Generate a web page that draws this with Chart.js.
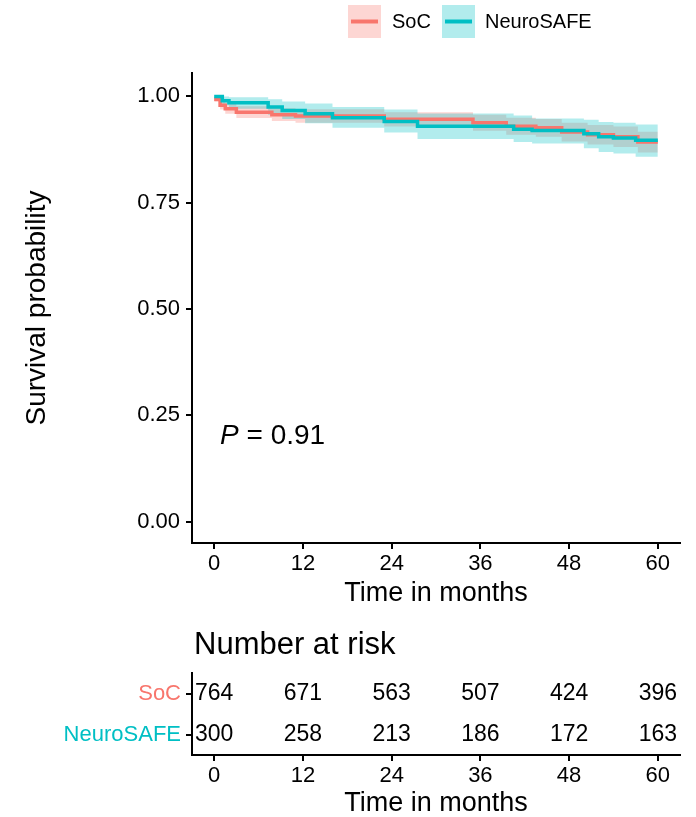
<!DOCTYPE html>
<html lang="en">
<head>
    <script src="https://cdn.jsdelivr.net/npm/chart.js"></script>
    <style>
        body { margin: 0; background: #fff; }
        .wrap { position: relative; width: 696px; height: 817px; background: #fff; }
        canvas { position: absolute; left: 0; }
        #kmChart { top: 0; }
        #riskChart { top: 625px; }
    </style>
</head>
<body>
    <div class="wrap">
        <canvas id="kmChart" width="696" height="625"></canvas>
        <canvas id="riskChart" width="696" height="192"></canvas>
    </div>

    <script>
        const FONT = "'Liberation Sans', Arial, sans-serif";
        const groups = ['SoC', 'NeuroSAFE'];
        const groupColors = ['#F8766D', '#00BFC4'];
        const bandColors = ['rgba(248,118,109,0.3)', 'rgba(0,191,196,0.3)'];

        // Kaplan-Meier steps (time in months, survival after the step)
        const socTime  = [0, 0.8, 1.5, 3.0, 7.8, 11, 23, 35, 39.5, 43.5, 47, 50.5, 54, 57.3, 60];
        const socSurv  = [0.993, 0.979, 0.971, 0.963, 0.957, 0.954, 0.946, 0.938, 0.930, 0.926, 0.916, 0.910, 0.905, 0.893, 0.893];
        const socUpper = [1.000, 0.989, 0.983, 0.977, 0.972, 0.970, 0.963, 0.957, 0.950, 0.947, 0.938, 0.933, 0.929, 0.917, 0.917];
        const socLower = [0.987, 0.969, 0.959, 0.949, 0.942, 0.938, 0.929, 0.919, 0.910, 0.905, 0.894, 0.887, 0.881, 0.868, 0.868];

        const nsTime  = [0, 1.1, 2.0, 7.3, 9.2, 12.3, 16, 23, 27.5, 40.5, 43, 50, 52, 54, 57, 60];
        const nsSurv  = [1.000, 0.990, 0.985, 0.975, 0.967, 0.959, 0.950, 0.941, 0.930, 0.923, 0.920, 0.912, 0.905, 0.902, 0.897, 0.897];
        const nsUpper = [1.000, 1.000, 0.998, 0.993, 0.988, 0.983, 0.975, 0.969, 0.960, 0.955, 0.948, 0.945, 0.940, 0.938, 0.934, 0.934];
        const nsLower = [1.000, 0.979, 0.971, 0.957, 0.947, 0.937, 0.926, 0.915, 0.900, 0.893, 0.889, 0.878, 0.869, 0.866, 0.858, 0.858];

        const xTicks = [0, 12, 24, 36, 48, 60];
        const yTicks = [0, 0.25, 0.5, 0.75, 1];
        const pValue = '0.91';

        // number at risk
        const riskTimes = [0, 12, 24, 36, 48, 60];
        const riskSoC = [764, 671, 563, 507, 424, 396];
        const riskNeuro = [300, 258, 213, 186, 172, 163];

        const pts = (t, v) => t.map((x, i) => ({ x: x, y: v[i] }));

        const lineDs = (label, t, v, color, order) => ({
            label: label, data: pts(t, v), borderColor: color, borderWidth: 3.5,
            pointRadius: 0, stepped: true, fill: false, order: order
        });
        const bandDs = (t, v, color, fill, order) => ({
            data: pts(t, v), borderWidth: 0, borderColor: 'rgba(0,0,0,0)', backgroundColor: color,
            pointRadius: 0, stepped: true, fill: fill, order: order
        });

        const xAxis = (height, titlePad, titleLH) => ({
            type: 'linear', min: -3, max: 63,
            afterBuildTicks: s => { s.ticks = xTicks.map(v => ({ value: v })); },
            afterFit: s => { s.height = height; },
            grid: { drawOnChartArea: false, drawTicks: true, tickLength: 6, color: '#000', lineWidth: 2 },
            border: { display: true, color: '#000', width: 2 },
            ticks: { color: '#000', font: { family: FONT, size: 22 }, padding: 2, maxRotation: 0 },
            title: { display: true, text: 'Time in months', color: '#000',
                     font: { family: FONT, size: 27, lineHeight: titleLH }, padding: { top: 0, bottom: titlePad } }
        });

        const kmExtras = {
            id: 'kmExtras',
            afterDraw(chart) {
                const c = chart.ctx;
                c.save();
                // legend
                const boxes = [348, 442];
                const texts = [392, 485];
                groups.forEach((g, i) => {
                    c.fillStyle = bandColors[i];
                    c.fillRect(boxes[i], 5, 33, 33);
                    c.strokeStyle = groupColors[i];
                    c.lineWidth = 4;
                    c.beginPath();
                    c.moveTo(boxes[i] + 3, 21.5);
                    c.lineTo(boxes[i] + 30, 21.5);
                    c.stroke();
                    c.fillStyle = '#000';
                    c.font = '20px ' + FONT;
                    c.textBaseline = 'middle';
                    c.textAlign = 'left';
                    c.fillText(g, texts[i], 22);
                });
                // p-value
                const xs = chart.scales.x, ys = chart.scales.y;
                const px = xs.getPixelForValue(0.8), py = ys.getPixelForValue(0.2);
                c.font = 'italic 28px ' + FONT;
                c.fillText('P', px, py);
                const w = c.measureText('P').width;
                c.font = '28px ' + FONT;
                c.fillText(' = ' + pValue, px + w, py);
                c.restore();
            }
        };

        new Chart(document.getElementById('kmChart'), {
            type: 'line',
            data: {
                datasets: [
                    lineDs('NeuroSAFE', nsTime, nsSurv, groupColors[1], 0),
                    lineDs('SoC', socTime, socSurv, groupColors[0], 1),
                    bandDs(nsTime, nsUpper, bandColors[1], '+1', 2),
                    bandDs(nsTime, nsLower, bandColors[1], false, 2),
                    bandDs(socTime, socUpper, bandColors[0], '+1', 3),
                    bandDs(socTime, socLower, bandColors[0], false, 3)
                ]
            },
            options: {
                responsive: false,
                animation: false,
                layout: { padding: { top: 73, right: 16, left: 0, bottom: 0 } },
                plugins: { legend: { display: false }, tooltip: { enabled: false } },
                scales: {
                    x: xAxis(82, 15, 1.2),
                    y: {
                        type: 'linear', min: -0.05, max: 1.055,
                        afterBuildTicks: s => { s.ticks = yTicks.map(v => ({ value: v })); },
                        afterFit: s => { s.width = 192; },
                        grid: { drawOnChartArea: false, drawTicks: true, tickLength: 6, color: '#000', lineWidth: 2 },
                        border: { display: true, color: '#000', width: 2 },
                        ticks: { color: '#000', font: { family: FONT, size: 22 }, padding: 6,
                                 callback: v => Number(v).toFixed(2) },
                        title: { display: true, text: 'Survival probability', color: '#000',
                                 font: { family: FONT, size: 28 }, padding: { top: 20, bottom: 0 } }
                    }
                }
            },
            plugins: [kmExtras]
        });

        // risk table: one invisible point per cell, the count is written at that point
        const riskRows = [riskSoC, riskNeuro];
        const riskExtras = {
            id: 'riskExtras',
            afterDraw(chart) {
                const c = chart.ctx;
                c.save();
                c.fillStyle = '#000';
                c.font = '31px ' + FONT;
                c.textAlign = 'left';
                c.textBaseline = 'middle';
                c.fillText('Number at risk', chart.chartArea.left + 2, 20);
                c.font = '23px ' + FONT;
                c.textAlign = 'center';
                chart.data.datasets.forEach((ds, di) => {
                    chart.getDatasetMeta(di).data.forEach((el, i) => {
                        c.fillText(String(ds.data[i].n), el.x, el.y);
                    });
                });
                c.restore();
            }
        };

        new Chart(document.getElementById('riskChart'), {
            type: 'line',
            data: {
                labels: groups,
                datasets: groups.map((g, gi) => ({
                    data: riskTimes.map((t, i) => ({ x: t, y: g, n: riskRows[gi][i] })),
                    showLine: false, pointRadius: 0
                }))
            },
            options: {
                responsive: false,
                animation: false,
                layout: { padding: { top: 48, right: 16, left: 0, bottom: 0 } },
                plugins: { legend: { display: false }, tooltip: { enabled: false } },
                scales: {
                    x: xAxis(62, 0, 1.0),
                    y: {
                        type: 'category', labels: groups, offset: true,
                        afterFit: s => { s.width = 192; },
                        grid: { offset: false, drawOnChartArea: false, drawTicks: true, tickLength: 6, color: '#000', lineWidth: 2 },
                        border: { display: true, color: '#000', width: 2 },
                        ticks: { color: ctx => groupColors[ctx.index], font: { family: FONT, size: 22 }, padding: 5 }
                    }
                }
            },
            plugins: [riskExtras]
        });
    </script>
</body>
</html>
